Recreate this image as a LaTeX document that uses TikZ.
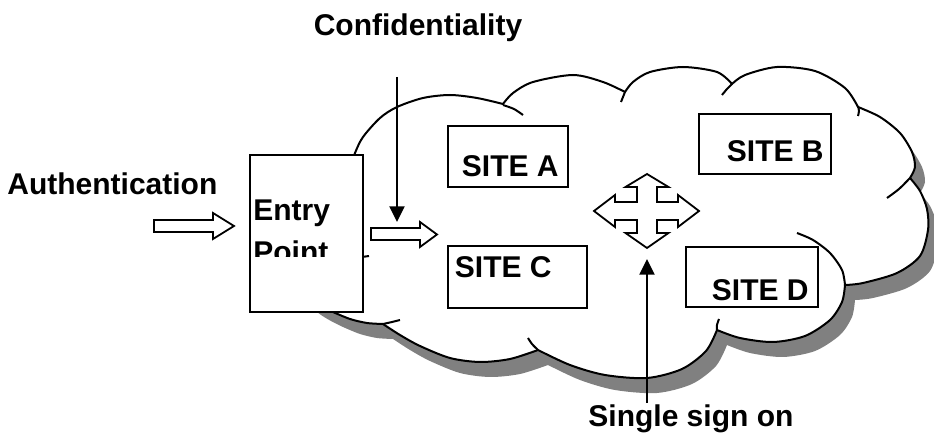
\documentclass[tikz,border=0pt]{standalone}
\usepackage{fontspec}
\setmainfont{Liberation Sans}
\usetikzlibrary{arrows.meta}

% Outer outline of the cloud, one smooth piece per lobe
\def\cloudoutline{
  (333,312) -- plot[smooth] coordinates {(333,312) (305,295) (287,260) (300,222) (340,200)}
  -- plot[smooth] coordinates {(340,200) (347,175) (355,153) (363,137) (380,118) (397,107) (423,98) (450,95) (477,98) (503,104)}
  -- plot[smooth] coordinates {(503,104) (513,93) (533,82) (573,75) (603,82) (625,92)}
  -- plot[smooth] coordinates {(625,92) (633,82) (650,72) (683,67) (717,72) (732,84)}
  -- plot[smooth] coordinates {(732,84) (745,75) (777,67) (815,71) (845,88) (858,107)}
  -- plot[smooth] coordinates {(858,107) (880,117) (900,133) (912,152) (915,167) (910,178)}
  -- plot[smooth] coordinates {(910,178) (920,191) (927,209) (928,230) (920,256) (897,273) (863,283) (845,285)}
  -- plot[smooth] coordinates {(845,285) (842,302) (830,320) (805,336) (773,342) (740,338) (717,330)}
  -- plot[smooth] coordinates {(717,330) (706,351) (682,369) (647,378) (605,375) (570,365) (538,350)}
  -- plot[smooth] coordinates {(538,350) (510,359) (480,362) (450,358) (420,346) (400,335) (383,324)}
  -- plot[smooth] coordinates {(383,324) (367,323) (350,319) (333,312)} -- cycle}

\begin{document}
\begin{tikzpicture}[x=0.5pt,y=-0.5pt,
  lbl/.style={font=\bfseries\fontsize{15}{18}\selectfont, inner sep=0pt},
  sitebox/.style={draw, line width=0.9pt, fill=white, inner sep=0pt},
  cloudline/.style={line width=1pt, line join=round},
  blockarrow/.style={draw, line width=0.9pt, fill=white, line join=miter},
  pointer/.style={line width=1pt, -{Triangle[length=7.8pt,width=7.5pt]}}]

\useasboundingbox (0,0) rectangle (934,433);

% cloud: shadow, body, outline
\fill[black!50, shift={(10,15)}] \cloudoutline;
\fill[white] \cloudoutline;
\draw[cloudline] \cloudoutline;

% inner tails of the lobes
\draw[cloudline] plot[smooth] coordinates {(503,105) (514,109) (523,115)};
\draw[cloudline] plot[smooth] coordinates {(625,92) (623,97) (621,102)};
\draw[cloudline] plot[smooth] coordinates {(732,84) (727,89) (722,95)};
\draw[cloudline] plot[smooth] coordinates {(858,106) (859,111) (858,116)};
\draw[cloudline] plot[smooth] coordinates {(910,178) (899,189) (887,198)};
\draw[cloudline] plot[smooth] coordinates {(797,233) (813,240) (830,253) (842,270) (845,285)};
\draw[cloudline] plot[smooth] coordinates {(717,330) (717,325) (719,319)};
\draw[cloudline] plot[smooth] coordinates {(538,350) (532,344) (528,338)};
\draw[cloudline] plot[smooth] coordinates {(383,324) (392,322) (400,320)};
\draw[cloudline] (362,257) -- (369,256);

% entry point box with its clipped caption
\node[sitebox, minimum width=56.5pt, minimum height=78.5pt] (entry) at (306.5,233.5) {};
\begin{scope}
  \clip (250,155) rectangle (363,257);
  \node[lbl, anchor=base west] (entrytxt) at (253,221) {Entry};
  \node[lbl, anchor=base west] (pointtxt) at (253,263) {Point};
\end{scope}

% sites
\node[sitebox, minimum width=60pt, minimum height=30.5pt] (siteA) at (508,156.5) {};
\node[lbl, anchor=base west] (siteAtxt) at (461.5,177) {SITE A};
\node[sitebox, minimum width=69.5pt, minimum height=31pt] (siteC) at (517.5,277) {};
\node[lbl, anchor=base west] (siteCtxt) at (454.5,278) {SITE C};
\node[sitebox, minimum width=66pt, minimum height=30pt] (siteB) at (765,144) {};
\node[lbl, anchor=base west] (siteBtxt) at (726.5,162) {SITE B};
\node[sitebox, minimum width=66pt, minimum height=30pt] (siteD) at (752,277) {};
\node[lbl, anchor=base west] (siteDtxt) at (711.5,301) {SITE D};

% block arrows
\draw[blockarrow] (154,220) -- (213,220) -- (213,213) -- (234,226) -- (213,239) -- (213,232) -- (154,232) -- cycle;
\draw[blockarrow] (371,228) -- (420,228) -- (420,222) -- (437,234.5) -- (420,247) -- (420,240) -- (371,240) -- cycle;

% four-way arrow between the sites
\draw[blockarrow] (647,174) -- (668.5,187) -- (657,187) -- (657,202) -- (678,202) -- (678,195)
  -- (699,211) -- (678,227) -- (678,220) -- (657,220) -- (657,233) -- (668.5,233) -- (647,248)
  -- (625.5,233) -- (637,233) -- (637,220) -- (615,220) -- (615,227) -- (594,211) -- (615,195)
  -- (615,202) -- (637,202) -- (637,187) -- (625.5,187) -- cycle;

% labels
\node[lbl, anchor=base] (conf) at (418,36) {Confidentiality};
\node[lbl, anchor=base west] (auth) at (7,195) {Authentication};
\node[lbl, anchor=base west] (sso) at (588,427) {Single sign on};

% pointers
\coordinate (conftop) at (397,77);
\coordinate (conftip) at (397,222);
\draw[pointer] (conftop) -- (conftip);
\coordinate (ssobot) at (647,403);
\coordinate (ssotip) at (647,259);
\draw[pointer] (ssobot) -- (ssotip);
\end{tikzpicture}
\end{document}
